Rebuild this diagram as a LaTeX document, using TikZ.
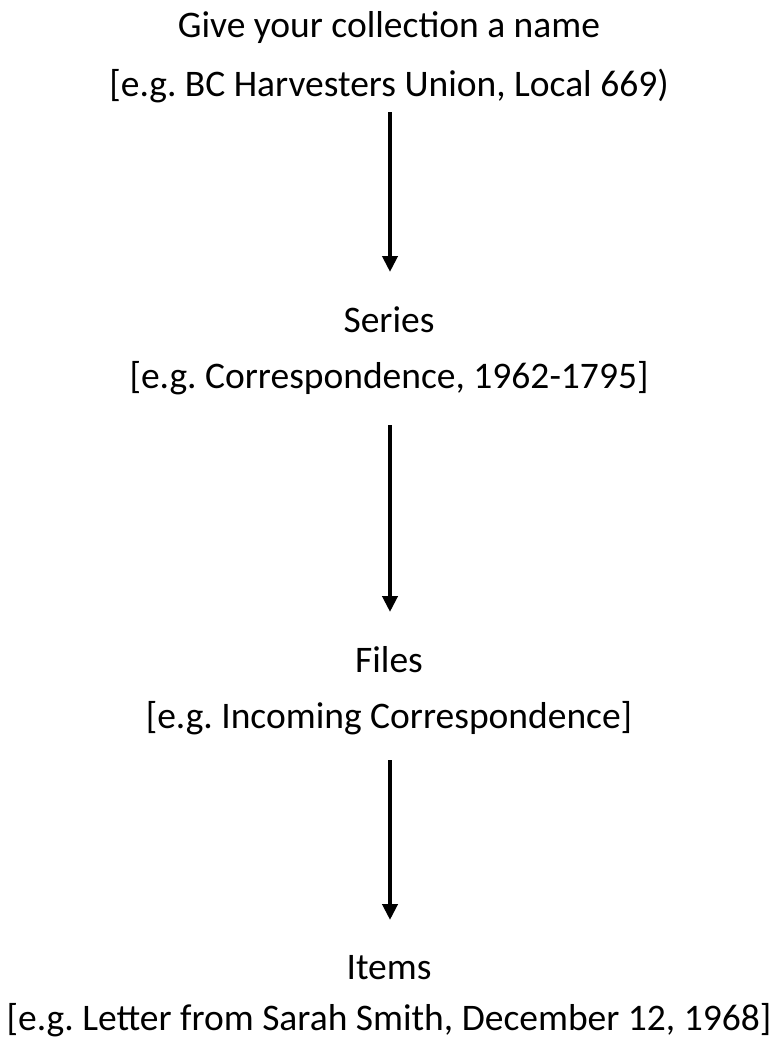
\documentclass[tikz,border=0pt]{standalone}
\usepackage{fontspec}
\setmainfont{Carlito}
\usetikzlibrary{arrows.meta}
\frenchspacing
\begin{document}
\begin{tikzpicture}[x=1pt,y=-1pt,
  lbl/.style={font=\fontsize{37.5}{44}\selectfont, inner sep=0pt, anchor=center, text=black},
  flow/.style={line width=4.5pt, -{Triangle[width=15pt,length=16pt]}}]
\useasboundingbox (0,0) rectangle (773,1044);
\node[lbl] (t1) at (389,28) {Give your collection a name};
\node[lbl] (e1) at (389,86) {[e.g. BC Harvesters Union, Local 669)};
\node[lbl] (t2) at (389,320) {Series};
\node[lbl] (e2) at (389,378) {[e.g. Correspondence, 1962-1795]};
\node[lbl] (t3) at (389,660) {Files};
\node[lbl] (e3) at (389,718) {[e.g. Incoming Correspondence]};
\node[lbl] (t4) at (389,968) {Items};
\node[lbl] (e4) at (389,1020) {[e.g. Letter from Sarah Smith, December 12, 1968]};
\coordinate (a1s) at (390,112);
\coordinate (a1e) at (390,272);
\coordinate (a2s) at (390,425);
\coordinate (a2e) at (390,612);
\coordinate (a3s) at (390,760);
\coordinate (a3e) at (390,920);
\draw[flow] (a1s) -- (a1e);
\draw[flow] (a2s) -- (a2e);
\draw[flow] (a3s) -- (a3e);
\end{tikzpicture}
\end{document}
